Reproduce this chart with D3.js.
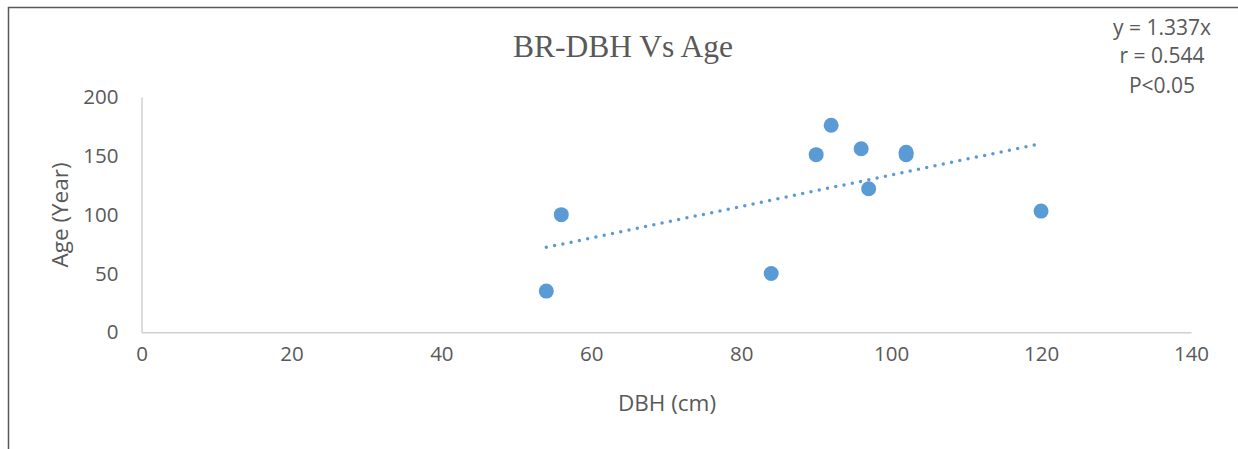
<!DOCTYPE html>
<html>
<head>
<meta charset="utf-8">
<script src="https://cdn.jsdelivr.net/npm/d3@7"></script>
<style>
  html, body { margin: 0; padding: 0; background: #fff; }
  svg { display: block; }
</style>
</head>
<body>
<svg id="chart" width="1238" height="449"></svg>
<script>
// Diameter at breast height (cm) and tree age (years)
const dbh = [54, 56, 84, 90, 92, 96, 97, 102, 102, 120];
const age = [35, 100, 50, 151, 176, 156, 122, 153, 151, 103];

// Regression through the origin and its statistics
const slope = 1.337;
const statLines = ["y = 1.337x", "r = 0.544", "P<0.05"];

const xTicks = [0, 20, 40, 60, 80, 100, 120, 140];
const yTicks = [0, 50, 100, 150, 200];

const W = 1238, H = 449;
const plot = { left: 141.5, right: 1191, top: 97, bottom: 332.3 };
const textColor = "#595959";
const sansFont = "'Open Sans', sans-serif";
const pointColor = "#5B9BD5";

const svg = d3.select("#chart");

const x = d3.scaleLinear().domain([0, 140]).range([plot.left, plot.right]);
const y = d3.scaleLinear().domain([0, 200]).range([plot.bottom, plot.top]);

// Outer frame: top and left edges only
svg.append("path")
  .attr("d", `M8.5,${H} L8.5,7.5 L${W},7.5`)
  .attr("fill", "none")
  .attr("stroke", "#595959")
  .attr("stroke-width", 1.5);

// Title
svg.append("text")
  .attr("x", 623).attr("y", 57)
  .attr("text-anchor", "middle")
  .attr("font-family", "'Liberation Serif', 'Times New Roman', serif")
  .attr("font-size", 31.5)
  .attr("fill", textColor)
  .text("BR-DBH Vs Age");

// Axes
const xAxis = d3.axisBottom(x).tickValues(xTicks).tickSize(0).tickPadding(14);
const yAxis = d3.axisLeft(y).tickValues(yTicks).tickSize(0).tickPadding(23);

const gx = svg.append("g").attr("transform", `translate(0,${plot.bottom})`).call(xAxis);
const gy = svg.append("g").attr("transform", `translate(${plot.left},0)`).call(yAxis);

[gx, gy].forEach(g => {
  g.select(".domain").attr("stroke", "#D0D0D0").attr("stroke-width", 1.5);
  g.selectAll("text")
    .attr("font-family", sansFont)
    .attr("font-size", 20.5)
    .attr("fill", textColor);
});

// Axis titles
svg.append("text")
  .attr("x", 667).attr("y", 411)
  .attr("text-anchor", "middle")
  .attr("font-family", sansFont)
  .attr("font-size", 22.5)
  .attr("fill", textColor)
  .text("DBH (cm)");

svg.append("text")
  .attr("transform", "translate(68,215) rotate(-90)")
  .attr("text-anchor", "middle")
  .attr("font-family", sansFont)
  .attr("font-size", 22.5)
  .attr("fill", textColor)
  .text("Age (Year)");

// Trendline over the observed DBH range
const xExt = d3.extent(dbh);
const line = d3.line().x(d => x(d)).y(d => y(slope * d));
svg.append("path")
  .datum(xExt)
  .attr("d", line)
  .attr("fill", "none")
  .attr("stroke", pointColor)
  .attr("stroke-width", 3.5)
  .attr("stroke-linecap", "round")
  .attr("stroke-dasharray", "0 8.45");

// Data points
svg.append("g")
  .selectAll("circle")
  .data(d3.zip(dbh, age))
  .join("circle")
  .attr("cx", d => x(d[0]))
  .attr("cy", d => y(d[1]))
  .attr("r", 7.5)
  .attr("fill", pointColor);

// Regression statistics, top right
const statY = [35, 63, 93];
svg.append("g")
  .selectAll("text")
  .data(statLines)
  .join("text")
  .attr("x", 1162)
  .attr("y", (d, i) => statY[i])
  .attr("text-anchor", "middle")
  .attr("font-family", sansFont)
  .attr("font-size", 21)
  .attr("fill", textColor)
  .text(d => d);
</script>
</body>
</html>
